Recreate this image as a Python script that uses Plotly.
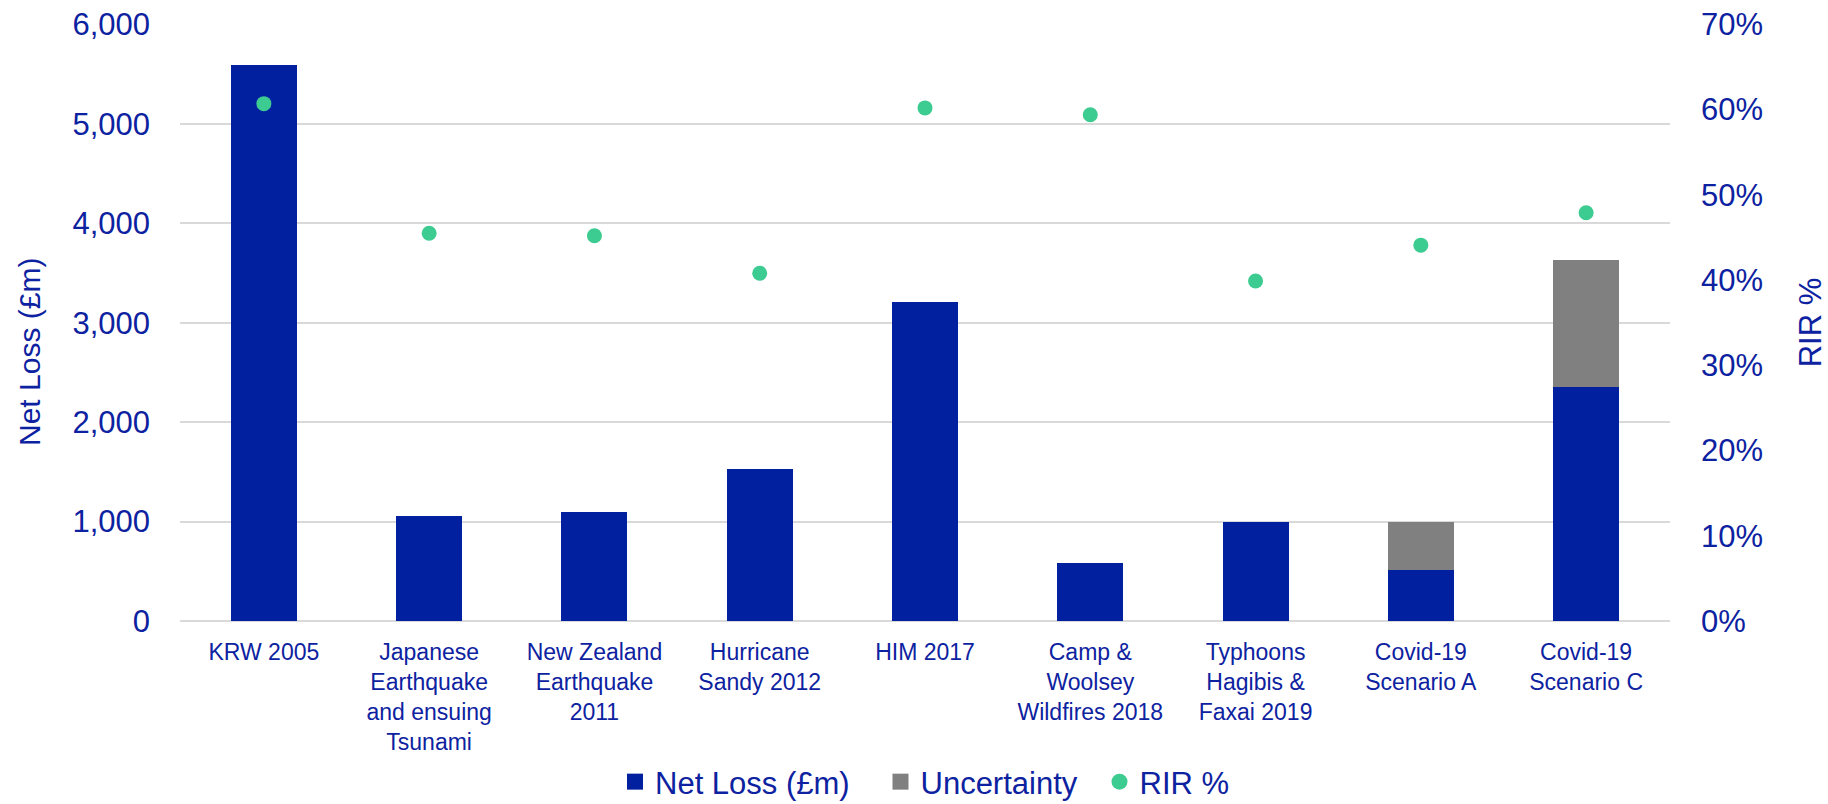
import plotly.graph_objects as go

categories = [
    "KRW 2005",
    "Japanese<br>Earthquake<br>and ensuing<br>Tsunami",
    "New Zealand<br>Earthquake<br>2011",
    "Hurricane<br>Sandy 2012",
    "HIM 2017",
    "Camp &<br>Woolsey<br>Wildfires 2018",
    "Typhoons<br>Hagibis &<br>Faxai 2019",
    "Covid-19<br>Scenario A",
    "Covid-19<br>Scenario C",
]
net_loss = [5590, 1055, 1100, 1525, 3210, 580, 1000, 515, 2350]
uncertainty = [0, 0, 0, 0, 0, 0, 0, 485, 1285]
rir = [0.607, 0.455, 0.452, 0.408, 0.602, 0.594, 0.399, 0.441, 0.479]

BLUE = "#0020A0"
TEXT = "#0D22A0"
GRAY = "#808080"
GREEN = "#3CCB91"
FONT = "Liberation Sans, Arial, sans-serif"
NB = "\u00a0"

fig = go.Figure()
fig.add_trace(go.Bar(x=categories, y=net_loss, name="Net Loss (£m)", showlegend=False,
                     marker=dict(color=BLUE, line=dict(width=0))))
fig.add_trace(go.Bar(x=categories, y=uncertainty, name="Uncertainty", showlegend=False,
                     marker=dict(color=GRAY, line=dict(width=0))))
fig.add_trace(go.Scatter(x=categories, y=rir, name="RIR %", mode="markers",
                         yaxis="y2", showlegend=False,
                         marker=dict(color=GREEN, size=15, line=dict(width=0))))

# legend entries
fig.add_trace(go.Scatter(x=[None], y=[None], mode="markers", name="Net Loss (£m)" + NB * 3,
                         marker=dict(symbol="square", color=BLUE, size=17)))
fig.add_trace(go.Scatter(x=[None], y=[None], mode="markers", name="Uncertainty" + NB * 2,
                         marker=dict(symbol="square", color=GRAY, size=17)))
fig.add_trace(go.Scatter(x=[None], y=[None], mode="markers", name="RIR %", yaxis="y2",
                         marker=dict(symbol="circle", color=GREEN, size=17)))

fig.update_layout(
    width=1828, height=804,
    margin=dict(l=180, r=158, t=24, b=183, autoexpand=False),
    paper_bgcolor="white", plot_bgcolor="white",
    barmode="stack", bargap=0.6,
    font=dict(family=FONT, color=TEXT, size=24),
    showlegend=True,
    legend=dict(orientation="h", xref="paper", x=0.5, xanchor="center",
                yref="container", y=(804 - 782) / 804, yanchor="middle",
                font=dict(size=31, color=TEXT), itemwidth=30, traceorder="normal",
                itemsizing="trace"),
    xaxis=dict(showgrid=False, showline=False, ticks="", automargin=False,
               tickfont=dict(size=23, color=TEXT), tickangle=0, ticklabelstandoff=15),
    yaxis=dict(range=[0, 6004], tickvals=[0, 1000, 2000, 3000, 4000, 5000, 6000],
               tickformat=",d", automargin=False,
               showgrid=True, gridcolor="#D9D9D9", gridwidth=1.5,
               zeroline=True, zerolinecolor="#D9D9D9", zerolinewidth=1.5,
               showline=False, ticks="", ticklabelstandoff=29,
               tickfont=dict(size=31, color=TEXT)),
    yaxis2=dict(range=[0, 0.7 * 6004 / 6000], tickvals=[0, 0.1, 0.2, 0.3, 0.4, 0.5, 0.6, 0.7],
                tickformat=".0%", overlaying="y", side="right", automargin=False,
                showgrid=False, zeroline=False, showline=False, ticks="",
                ticklabelstandoff=30,
                tickfont=dict(size=31, color=TEXT),
                title=dict(text="RIR %", font=dict(size=31, color=TEXT), standoff=38)),
    annotations=[dict(text="Net Loss (£m)", textangle=-90, showarrow=False,
                      xref="paper", yref="paper", x=(29 - 180) / 1490, y=(621 - 352) / 597,
                      xanchor="center", yanchor="middle",
                      font=dict(size=30, color=TEXT, family=FONT))],
)

fig.write_html("out.html")
